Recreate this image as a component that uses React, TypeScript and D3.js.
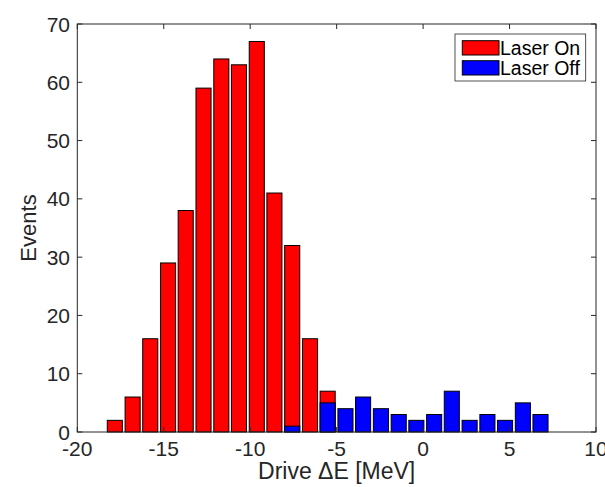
import React from 'react';
import { scaleLinear, range } from 'd3';

// bin centres of the histogram (MeV)
const binCenters = [
  -17.83, -16.8, -15.78, -14.75, -13.73, -12.7, -11.67, -10.65, -9.62, -8.6,
  -7.57, -6.54, -5.52, -4.49, -3.47, -2.44, -1.41, -0.39, 0.64, 1.66,
  2.69, 3.72, 4.74, 5.77, 6.79,
];
const laserOn = [2, 6, 16, 29, 38, 59, 64, 63, 67, 41, 32, 16, 7, 0, 0, 0, 0, 0, 0, 0, 0, 0, 0, 0, 0];
const laserOff = [0, 0, 0, 0, 0, 0, 0, 0, 0, 0, 1, 0, 5, 4, 6, 4, 3, 2, 3, 7, 2, 3, 2, 5, 3];
const xTicks = [-20, -15, -10, -5, 0, 5, 10];
const yTicks = [0, 10, 20, 30, 40, 50, 60, 70];
const seriesNames = ['Laser On', 'Laser Off'];

const W = 605;
const H = 487;
const left = 77.3, right = 596, top = 24, bottom = 432;
const binWidth = 1.026;
const barFrac = 0.85;
const axisColor = '#262626';
const font = '"Liberation Sans", Arial, Helvetica, sans-serif';

export default function App() {
  const x = scaleLinear().domain([-20, 10]).range([left, right]);
  const y = scaleLinear().domain([0, 70]).range([bottom, top]);
  const bw = x(binWidth * barFrac) - x(0);
  const tick = 5;

  const bars = (vals: number[], color: string) =>
    vals.map((v, i) =>
      v > 0 ? (
        <rect
          key={color + i}
          x={x(binCenters[i]) - bw / 2}
          y={y(v)}
          width={bw}
          height={y(0) - y(v)}
          fill={color}
          stroke="#000"
          strokeWidth={1}
        />
      ) : null
    );

  return (
    <div style={{ position: 'absolute', left: 0, top: 0 }}>
      <svg width={W} height={H} style={{ display: 'block', background: '#fff' }}>
        {bars(laserOn, '#ff0000')}
        {bars(laserOff, '#0000ff')}

        {/* axes box */}
        <rect x={left} y={top} width={right - left} height={bottom - top} fill="none" stroke={axisColor} strokeWidth={1} />

        {xTicks.map((t) => (
          <g key={'x' + t}>
            <line x1={x(t)} x2={x(t)} y1={bottom} y2={bottom - tick} stroke={axisColor} />
            <line x1={x(t)} x2={x(t)} y1={top} y2={top + tick} stroke={axisColor} />
            <text x={x(t)} y={456} textAnchor="middle" fontSize={21} fontFamily={font} fill={axisColor}>
              {t}
            </text>
          </g>
        ))}
        {yTicks.map((t) => (
          <g key={'y' + t}>
            <line x1={left} x2={left + tick} y1={y(t)} y2={y(t)} stroke={axisColor} />
            <line x1={right} x2={right - tick} y1={y(t)} y2={y(t)} stroke={axisColor} />
            <text x={70} y={y(t)} dy="0.36em" textAnchor="end" fontSize={21} fontFamily={font} fill={axisColor}>
              {t}
            </text>
          </g>
        ))}

        <text x={(left + right) / 2} y={479} textAnchor="middle" fontSize={23} fontFamily={font} fill={axisColor}>
          Drive ΔE [MeV]
        </text>
        <text
          transform={`translate(36,${(top + bottom) / 2}) rotate(-90)`}
          textAnchor="middle"
          fontSize={22}
          fontFamily={font}
          fill={axisColor}
        >
          Events
        </text>

        {/* legend */}
        <g>
          <rect x={455} y={34} width={130.7} height={47} fill="#fff" stroke={axisColor} strokeWidth={0.8} />
          {seriesNames.map((name, i) => (
            <g key={name} transform={`translate(0,${i * 20})`}>
              <rect x={462.3} y={40.7} width={36.7} height={14.3} fill={i === 0 ? '#ff0000' : '#0000ff'} stroke="#000" strokeWidth={1} />
              <text x={500} y={54.5} fontSize={19.5} fontFamily={font} fill="#000">
                {name}
              </text>
            </g>
          ))}
        </g>
      </svg>
    </div>
  );
}
